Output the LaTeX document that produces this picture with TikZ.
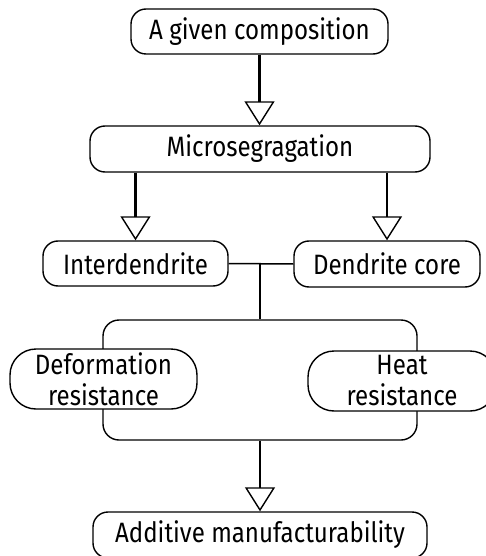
\documentclass[tikz,border=0pt]{standalone}
\usepackage{fontspec}
\setmainfont[FakeStretch=0.86]{Fira Sans}
\usetikzlibrary{arrows.meta}
\tikzset{
  box/.style={draw, line width=1.4pt, rounded corners=15pt, fill=white, inner sep=0pt,
    font=\fontsize{28}{31}\selectfont, align=center},
  pill/.style={box, rounded corners=26pt},
  flow/.style={line width=2.6pt, -{Triangle[open, length=24pt, width=30pt, line width=1.4pt]}},
  link/.style={line width=1.5pt}
}
\begin{document}
\begin{tikzpicture}[x=1pt, y=-1pt]
\useasboundingbox (0,0) rectangle (486,556);
\clip (0,0) rectangle (486,556);
\node[box, minimum width=257pt, minimum height=45pt] (comp) at (259.5,31.5) {A given composition};
\node[box, minimum width=340pt, minimum height=46pt] (micro) at (260,149) {Microsegragation};
\node[box, minimum width=185pt, minimum height=45pt] (inter) at (135.5,263.5) {Interdendrite};
\node[box, minimum width=186pt, minimum height=46pt] (dend) at (387,264) {Dendrite core};
\node[draw, line width=1.4pt, rounded corners=16pt, minimum width=314pt, minimum height=120pt, inner sep=0pt] (frame) at (260,380) {};
\node[pill, minimum width=187pt, minimum height=60pt] (deform) at (103.5,379) {Deformation\\resistance};
\node[pill, minimum width=188pt, minimum height=60pt] (heat) at (402,381) {Heat\\resistance};
\node[box, minimum width=334pt, minimum height=46pt] (am) at (260,535) {Additive manufacturability};
\coordinate (tee) at (260,263);
\draw[flow] (comp.south) -- (comp.south |- micro.north);
\draw[flow] (inter.north |- micro.south) -- (inter.north);
\draw[flow] (dend.north |- micro.south) -- (dend.north);
\draw[link] (inter.east) -- (dend.west);
\draw[link] (tee) -- (frame.north);
\draw[flow] (frame.south) -- (am.north);
\end{tikzpicture}
\end{document}
